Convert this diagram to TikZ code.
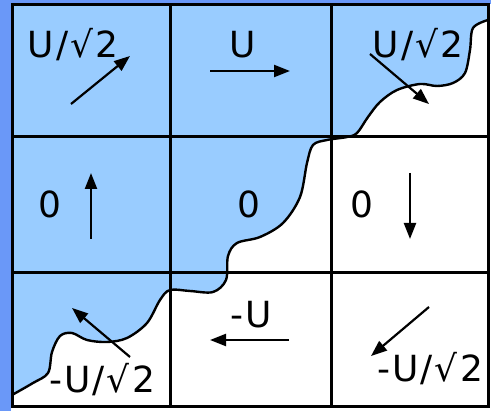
\documentclass[tikz,border=0pt]{standalone}
\usepackage{fontspec}
\setmainfont[LetterSpace=6]{DejaVu Sans}
\usetikzlibrary{arrows.meta}
\definecolor{slideBlue}{HTML}{6A98F8}
\definecolor{fluidBlue}{HTML}{99CCFF}

\begin{document}
\begin{tikzpicture}[
  x=1pt, y=-1pt,
  font=\fontsize{36}{40}\selectfont,
  cellgrid/.style={draw=black, line width=3pt},
  iface/.style={draw=black, line width=2.4pt},
  vec/.style={-{Triangle[length=16pt,width=12pt]}, line width=2.2pt},
  val/.style={inner sep=0pt, anchor=base},
]
\useasboundingbox (0,0) rectangle (491,411);

% ---------------- BACKGROUND (slide edge, fluid) ----------------
\fill[white] (0,0) rectangle (491,411);
\fill[slideBlue] (0,0) rectangle (491,4.5);
\fill[slideBlue] (0,0) rectangle (11,411);
\fill[fluidBlue] plot[smooth, tension=0.55] coordinates {
    (12,395) (33,383) (48,373) (52,352) (60,336) (72,333) (87,340)
    (107,342) (127,338) (147,323) (160,300) (170,290) (190,291)
    (213,292) (226,280) (228,256) (237,243) (260,237) (283,223)
    (300,197) (307,163) (313,145) (327,140) (347,137) (357,133)
    (368,117) (380,102) (397,90) (420,84) (437,86) (453,83)
    (465,73) (470,50) (473,28) (488,20)}
  -- (488,5) -- (12,5) -- cycle;
% interface
\draw[iface] plot[smooth, tension=0.55] coordinates {
    (12,395) (33,383) (48,373) (52,352) (60,336) (72,333) (87,340)
    (107,342) (127,338) (147,323) (160,300) (170,290) (190,291)
    (213,292) (226,280) (228,256) (237,243) (260,237) (283,223)
    (300,197) (307,163) (313,145) (327,140) (347,137) (357,133)
    (368,117) (380,102) (397,90) (420,84) (437,86) (453,83)
    (465,73) (470,50) (473,28) (488,20)};

% ---------------- GRID ----------------
\draw[cellgrid] (12,5) rectangle (488,407);
\draw[cellgrid] (170,5) -- (170,407);
\draw[cellgrid] (331,5) -- (331,407);
\draw[cellgrid] (12,137) -- (488,137);
\draw[cellgrid] (12,273) -- (488,273);

% ---------------- VALUES ----------------
\node[val] (nw) at (73,58)   {U/√2};
\node[val] (n)  at (243,58)  {U};
\node[val] (ne) at (418,58)  {U/√2};
\node[val] (w)  at (50,218)  {0};
\node[val] (c)  at (249,218) {0};
\node[val] (e)  at (362,218) {0};
\node[val] (sw) at (102,393) {-U/√2};
\node[val] (s)  at (251,328) {-U};
\node[val] (se) at (430,382) {-U/√2};

% ---------------- VELOCITY ARROWS ----------------
\draw[vec] (71,104) -- (130,56);
\draw[vec] (210,71) -- (290,71);
\draw[vec] (370,54) -- (429,104);
\draw[vec] (91,239) -- (91,173);
\draw[vec] (410,173) -- (410,239);
\draw[vec] (130,357) -- (72,308);
\draw[vec] (289,340) -- (210,340);
\draw[vec] (429,307) -- (371,356);
\end{tikzpicture}
\end{document}
